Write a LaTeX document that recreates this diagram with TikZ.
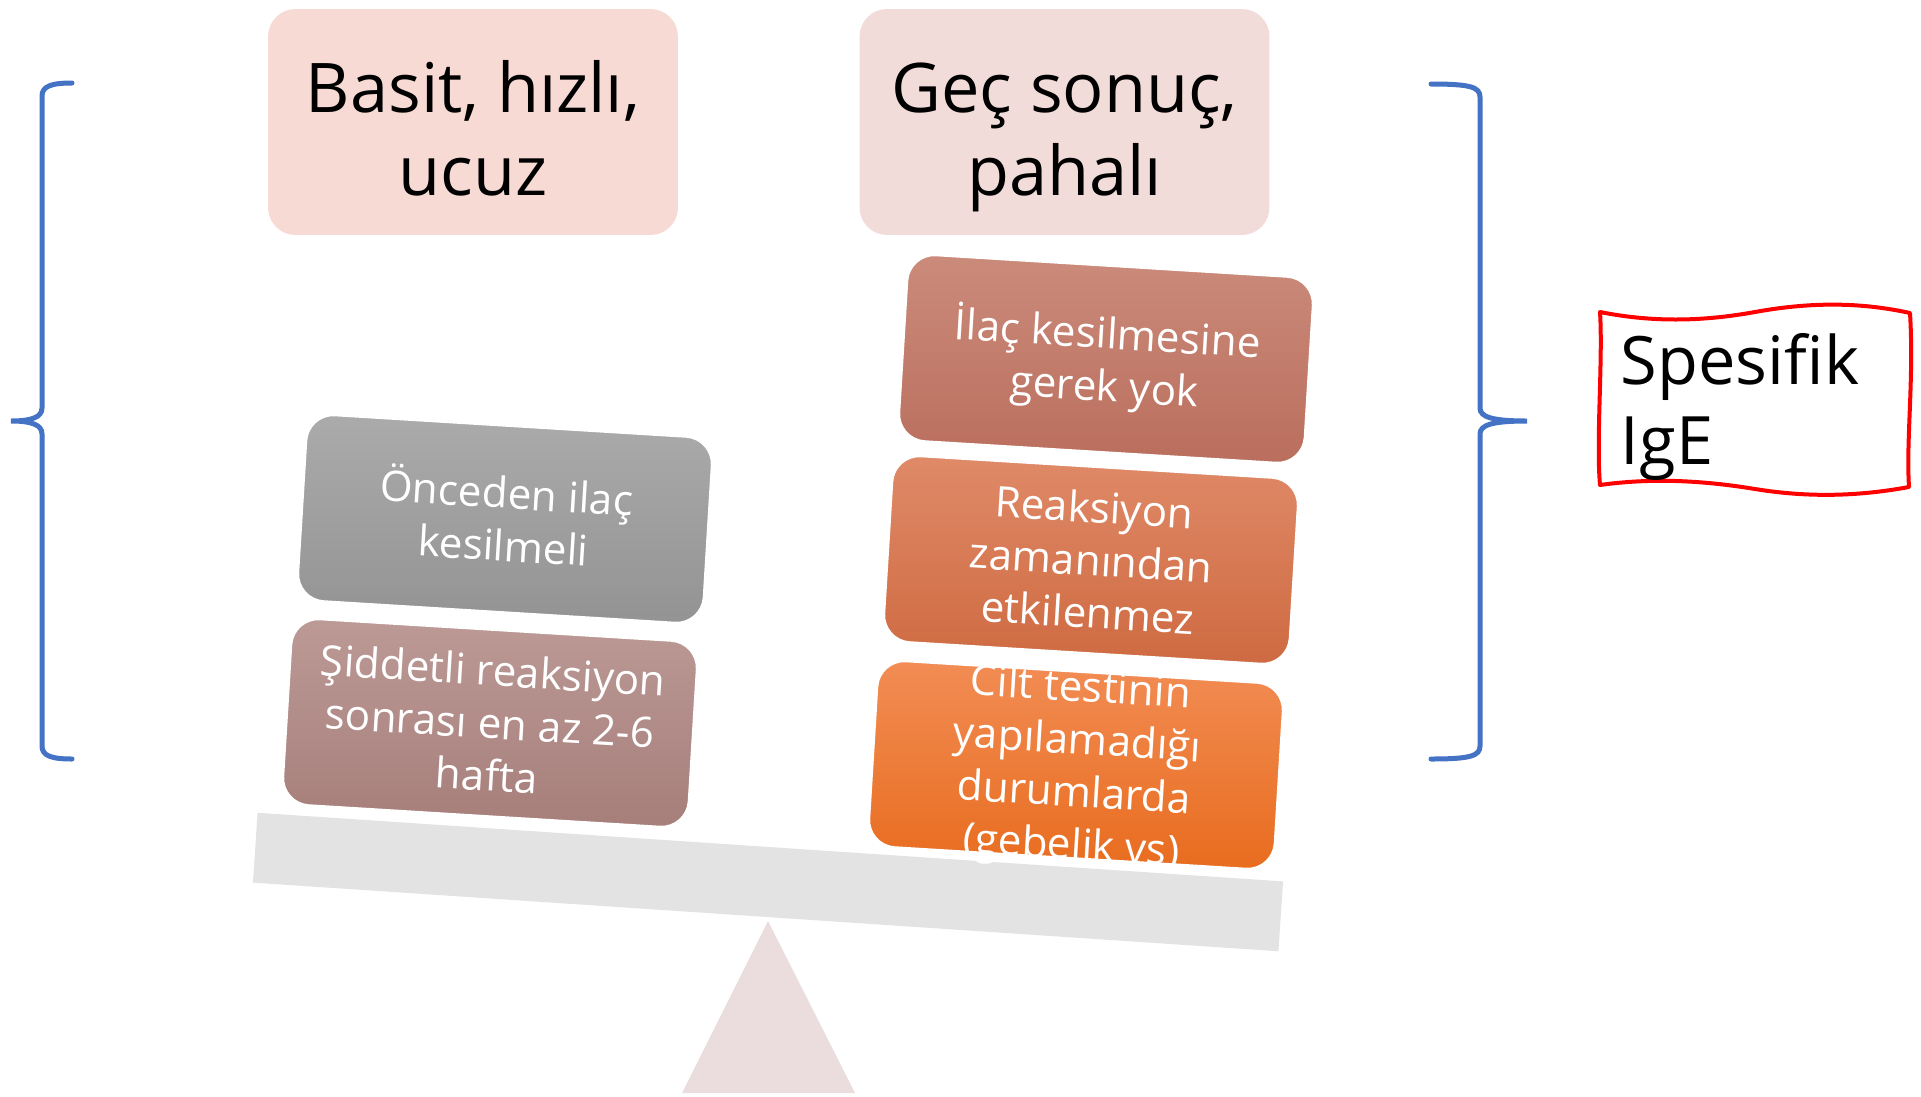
\documentclass[tikz,border=0pt]{standalone}
\usepackage{fontspec}
\setmainfont{Open Sans}
\usetikzlibrary{positioning}

\definecolor{kume}{HTML}{4472C4}
\definecolor{solbaslik}{HTML}{F7DAD3}
\definecolor{sagbaslik}{HTML}{F2DCD9}
\definecolor{tahta}{HTML}{E3E3E3}
\definecolor{ayak}{HTML}{EBDDDD}

\newcommand{\kutuyazi}[1]{\raisebox{-9pt}[0pt][0pt]{\begin{tabular}{@{}c@{}}#1\end{tabular}}}
\newcommand{\baslikyazi}[1]{\raisebox{-15pt}[0pt][0pt]{\begin{tabular}{@{}c@{}}#1\end{tabular}}}

\begin{document}
\begin{tikzpicture}[x=0.02cm, y=-0.02cm]

  \tikzset{BaslikStyle/.style = {
  shape = rectangle,
  rounded corners = 0.55cm,
  minimum width = 8.2cm,
  minimum height = 4.52cm,
  inner sep = 0pt,
  font = \fontsize{39}{47}\selectfont}}
  \tikzset{KutuStyle/.style = {
  shape = rectangle,
  rounded corners = 0.55cm,
  minimum width = 8.14cm,
  minimum height = 3.74cm,
  inner sep = 0pt,
  draw = white,
  line width = 1.5pt,
  text = white,
  rotate = -3.5,
  font = \fontsize{24}{30}\selectfont}}
  \tikzset{KumeStyle/.style = {
  draw = kume,
  line width = 0.1cm,
  line cap = round}}

  \fill[white] (0,0) rectangle (1921,1096);
  \useasboundingbox (0,0) rectangle (1921,1096);

  \fill[ayak] (768,921) -- (855,1093) -- (682,1093) -- cycle;
  \node[fill=tahta, minimum width=20.56cm, minimum height=1.4cm,
    inner sep=0pt, rotate=-3.83] (T) at (768,882) {};

  \node[BaslikStyle, fill=solbaslik] (H1) at (473,122) {\baslikyazi{Basit, hızlı,\\ucuz}};
  \node[BaslikStyle, fill=sagbaslik] (H2) at (1064.5,122) {\baslikyazi{Geç sonuç,\\pahalı}};

  \begin{scope}
    \node[KutuStyle, top color={rgb,255:red,171;green,171;blue,171},
      bottom color={rgb,255:red,147;green,147;blue,147}] (L1) at (505,519)
      {\kutuyazi{Önceden ilaç\\kesilmeli}};
    \node[KutuStyle, top color={rgb,255:red,188;green,154;blue,150},
      bottom color={rgb,255:red,166;green,126;blue,122}] (L2) at (490,723)
      {\kutuyazi{Şiddetli reaksiyon\\sonrası en az 2-6\\hafta}};
  \end{scope};

  \begin{scope}
    \node[KutuStyle, top color={rgb,255:red,203;green,139;blue,123},
      bottom color={rgb,255:red,186;green,110;blue,93}] (R1) at (1106,359)
      {\kutuyazi{İlaç kesilmesine\\gerek yok}};
    \node[KutuStyle, top color={rgb,255:red,224;green,138;blue,104},
      bottom color={rgb,255:red,206;green,106;blue,65}] (R2) at (1091,560)
      {\kutuyazi{Reaksiyon\\zamanından\\etkilenmez}};
    \node[KutuStyle, top color={rgb,255:red,242;green,141;blue,85},
      bottom color={rgb,255:red,232;green,108;blue,30}] (R3) at (1076,765)
      {\kutuyazi{Cilt testinin\\yapılamadığı\\durumlarda\\(gebelik vs)}};
  \end{scope};

  \draw[KumeStyle] (72,83) .. controls (52,83) and (42,86) .. (42,96)
    -- (42,408) .. controls (42,417) and (32,421) .. (11,421)
    .. controls (32,421) and (42,425) .. (42,434)
    -- (42,746) .. controls (42,756) and (52,759) .. (72,759);
  \draw[KumeStyle] (1431,84) .. controls (1470,84) and (1480,87) .. (1480,97)
    -- (1480,408) .. controls (1480,417) and (1492,421) .. (1527,421)
    .. controls (1492,421) and (1480,425) .. (1480,434)
    -- (1480,746) .. controls (1480,756) and (1470,759) .. (1431,759);

  \draw[red, line width=0.08cm, line join=round]
    (1600,312) .. controls (1650,322) and (1700,322) .. (1755,312)
    .. controls (1810,302) and (1860,302) .. (1910,313)
    .. controls (1914,380) and (1906,440) .. (1909,487)
    .. controls (1860,496) and (1810,498) .. (1755,489)
    .. controls (1700,480) and (1650,478) .. (1600,485)
    .. controls (1596,440) and (1603,360) .. cycle;
  \node[font=\fontsize{38}{46}\selectfont, align=left] (S) at (1740,407) {Spesifik\\IgE};

\end{tikzpicture}
\end{document}
